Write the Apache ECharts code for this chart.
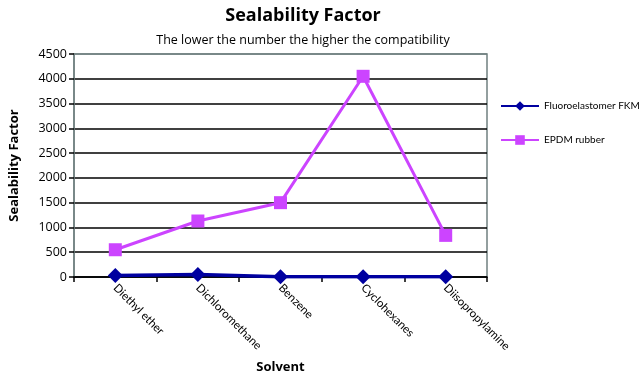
<!DOCTYPE html>
<html><head><meta charset="utf-8">
<script src="https://cdn.jsdelivr.net/npm/echarts@6/dist/echarts.min.js"></script>
<style>html,body{margin:0;padding:0;background:#fff}#c{width:640px;height:384px}</style>
</head><body><div id="c"></div>
<script>
const categories = ['Diethyl ether','Dichloromethane','Benzene','Cyclohexanes','Diisopropylamine'];
const fkm = [30, 50, 5, 5, 5];
const epdm = [550, 1130, 1500, 4050, 840];
const seriesNames = ['Fluoroelastomer FKM','EPDM rubber'];
const yTicks = [0,500,1000,1500,2000,2500,3000,3500,4000,4500];

const font = '"Open Sans", "Noto Sans", sans-serif';
const narrow = 'Lato, sans-serif';
const chart = echarts.init(document.getElementById('c'));
const gridColors = yTicks.map((v,i)=> i===yTicks.length-1 ? '#708080' : '#000');
chart.setOption({
  animation:false,
  title:[
    {text:'Sealability Factor', left:298, top:2, textAlign:'center',
     textStyle:{fontFamily:font,fontSize:18,fontWeight:'bold',color:'#000'}},
    {text:'The lower the number the higher the compatibility', left:298, top:29, textAlign:'center',
     textStyle:{fontFamily:font,fontSize:12.5,fontWeight:'normal',color:'#000'}}
  ],
  legend:{orient:'vertical', left:500, top:101, itemGap:24, itemWidth:38, itemHeight:12,
    data:seriesNames, padding:0,
    textStyle:{fontFamily:narrow,fontSize:10,color:'#000'}},
  grid:{left:71, right:153, top:54, bottom:107, show:true, borderColor:'#708080', borderWidth:1.5},
  xAxis:{type:'category', data:categories, boundaryGap:true,
    name:'Solvent', nameLocation:'middle', nameGap:84,
    nameTextStyle:{fontFamily:font,fontSize:13,fontWeight:'bold',color:'#000'},
    axisLine:{lineStyle:{color:'#000',width:1.5}},
    axisTick:{show:true,length:5,lineStyle:{color:'#000',width:1.5}},
    axisLabel:{rotate:-45, fontFamily:narrow, fontSize:11.5, color:'#000', margin:9, interval:0}},
  yAxis:{type:'value', min:0, max:4500, interval:500,
    name:'Sealability Factor', nameLocation:'middle', nameGap:53,
    nameTextStyle:{fontFamily:font,fontSize:13,fontWeight:'bold',color:'#000'},
    axisLine:{show:true,lineStyle:{color:'#708080',width:1.5}},
    axisTick:{show:true,length:5,lineStyle:{color:'#000',width:1.5}},
    axisLabel:{fontFamily:font,fontSize:12.5,color:'#000',margin:7,formatter:v=>String(v)},
    splitLine:{show:true,lineStyle:{color:gridColors,width:1.5}}},
  series:[
    {name:seriesNames[0], type:'line', data:fkm, symbol:'diamond', symbolSize:15,
     lineStyle:{color:'#0000a0',width:3.5}, itemStyle:{color:'#0000a0'}},
    {name:seriesNames[1], type:'line', data:epdm, symbol:'rect', symbolSize:13,
     lineStyle:{color:'#cc44ff',width:3}, itemStyle:{color:'#cc44ff'}}
  ]
});
</script></body></html>
